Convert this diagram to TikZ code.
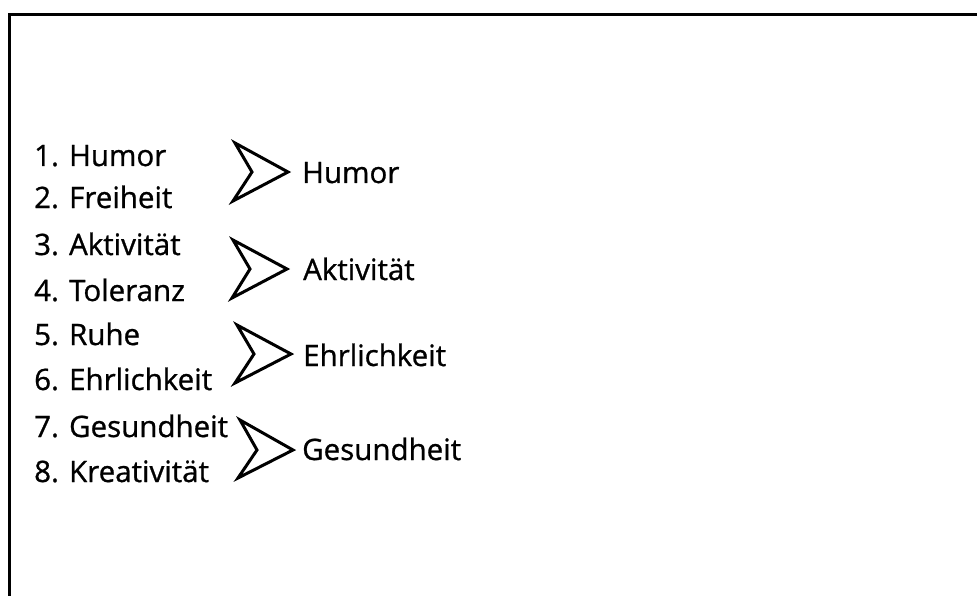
\documentclass[tikz,border=0pt]{standalone}
\usepackage{fontspec}
\setmainfont[FakeBold=0.9]{Open Sans}
\begin{document}
\begin{tikzpicture}[x=1pt,y=-1pt,
  item/.style={anchor=base west,inner sep=0pt,font=\fontsize{29.5}{36}\selectfont},
  chevron/.style={draw=black,line width=3pt,line join=miter,fill=white},
  frameline/.style={draw=black,line width=3.5pt}]
\useasboundingbox (0,0) rectangle (977,596);
% frame (open at right and bottom)
\draw[frameline] (977,14.5) -- (9.5,14.5) -- (9.5,569);
\draw[draw=black,line width=2.5pt] (9.5,568) -- (9.5,596);
% left list
\node[item] (l1) at (34,166) {1. Humor};
\node[item] (l2) at (34,208) {2. Freiheit};
\node[item] (l3) at (34,255) {3. Aktivität};
\node[item] (l4) at (34,301) {4. Toleranz};
\node[item] (l5) at (34,345) {5. Ruhe};
\node[item] (l6) at (34,390) {6. Ehrlichkeit};
\node[item] (l7) at (34,437) {7. Gesundheit};
\node[item] (l8) at (34,482) {8. Kreativität};
% chevrons
\draw[chevron] (235,143) -- (288,172) -- (233,201) -- (252,172) -- cycle;
\draw[chevron] (233,240) -- (287,269) -- (232,298) -- (250,269) -- cycle;
\draw[chevron] (237,325) -- (291,354) -- (235,383) -- (254,354) -- cycle;
\draw[chevron] (240,420) -- (293,450) -- (238,478) -- (257,450) -- cycle;
% results
\node[item] (r1) at (302,183) {Humor};
\node[item] (r2) at (303,280) {Aktivität};
\node[item] (r3) at (303,366) {Ehrlichkeit};
\node[item] (r4) at (302,460) {Gesundheit};
\end{tikzpicture}
\end{document}
